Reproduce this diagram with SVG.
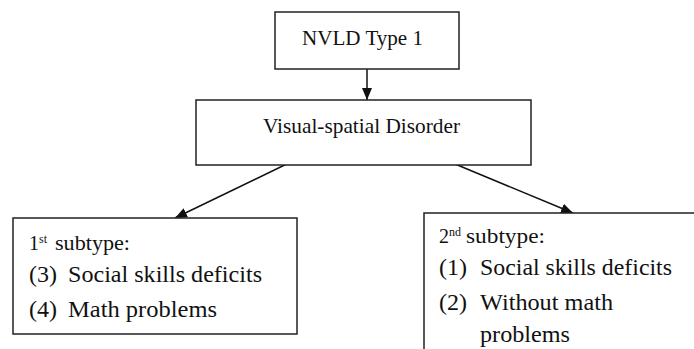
<svg xmlns="http://www.w3.org/2000/svg" width="694" height="349" viewBox="0 0 694 349">
  <style>
    .box { fill: #ffffff; stroke: #222222; stroke-width: 1.5; }
    .conn { stroke: #111111; stroke-width: 1.5; fill: none; }
  </style>
  <defs>
    <marker id="ah" viewBox="0 0 12 10" refX="12" refY="5" markerWidth="12" markerHeight="10" markerUnits="userSpaceOnUse" orient="auto">
      <path d="M0,0 L12,5 L0,10 Z" fill="#111111"/>
    </marker>
  </defs>
  <rect width="694" height="349" fill="#ffffff"/>

  <g id="connectors">
    <line class="conn" x1="367" y1="69" x2="367" y2="100" marker-end="url(#ah)"/>
    <line class="conn" x1="297" y1="159" x2="175" y2="218" marker-end="url(#ah)"/>
    <line class="conn" x1="443" y1="159" x2="573" y2="213" marker-end="url(#ah)"/>
  </g>

  <g id="node-nvld">
    <rect class="box" x="275" y="12" width="184" height="57"/>
    <text font-family="Liberation Serif" font-size="22" fill="#111" x="302" y="45" textLength="121" lengthAdjust="spacingAndGlyphs">NVLD  Type 1</text>
  </g>

  <g id="node-visual">
    <rect class="box" x="196" y="100" width="335" height="65"/>
    <text font-family="Liberation Serif" font-size="21" fill="#111" x="263" y="133" textLength="197" lengthAdjust="spacingAndGlyphs">Visual-spatial Disorder</text>
  </g>

  <g id="node-subtype1">
    <rect class="box" x="13" y="218" width="284" height="116"/>
    <text font-family="Liberation Serif" font-size="20" fill="#111" x="29" y="250">1<tspan font-size="12" dy="-7">st</tspan><tspan dy="7" x="55" textLength="75" lengthAdjust="spacingAndGlyphs">subtype:</tspan></text>
    <text font-family="Liberation Serif" font-size="24" fill="#111" x="29" y="282">(3)</text>
    <text font-family="Liberation Serif" font-size="24" fill="#111" x="68" y="282" textLength="194" lengthAdjust="spacingAndGlyphs">Social skills deficits</text>
    <text font-family="Liberation Serif" font-size="24" fill="#111" x="29" y="317">(4)</text>
    <text font-family="Liberation Serif" font-size="24" fill="#111" x="68" y="317" textLength="149" lengthAdjust="spacingAndGlyphs">Math problems</text>
  </g>

  <g id="node-subtype2">
    <rect class="box" x="424" y="213" width="290" height="150"/>
    <text font-family="Liberation Serif" font-size="20" fill="#111" x="439" y="243">2<tspan font-size="12" dy="-7">nd</tspan><tspan dy="7" x="466" textLength="79" lengthAdjust="spacingAndGlyphs">subtype:</tspan></text>
    <text font-family="Liberation Serif" font-size="24" fill="#111" x="439" y="275">(1)</text>
    <text font-family="Liberation Serif" font-size="24" fill="#111" x="480" y="275" textLength="192" lengthAdjust="spacingAndGlyphs">Social skills deficits</text>
    <text font-family="Liberation Serif" font-size="24" fill="#111" x="439" y="310">(2)</text>
    <text font-family="Liberation Serif" font-size="24" fill="#111" x="480" y="310" textLength="133" lengthAdjust="spacingAndGlyphs">Without math</text>
    <text font-family="Liberation Serif" font-size="24" fill="#111" x="480" y="342" textLength="90" lengthAdjust="spacingAndGlyphs">problems</text>
  </g>
</svg>
